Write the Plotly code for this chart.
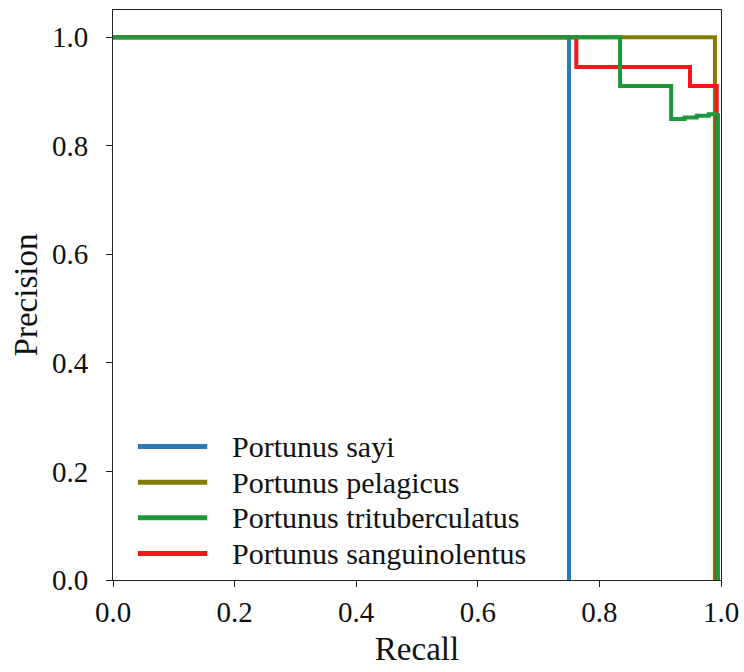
import plotly.graph_objects as go

# Precision-recall step curves per species
species = ["Portunus sayi", "Portunus pelagicus",
           "Portunus trituberculatus", "Portunus sanguinolentus"]
colors = ["#2b79b6", "#857b00", "#1c983b", "#f5151b"]

recall_sayi = [0.0, 0.75, 0.75]
precision_sayi = [1.0, 1.0, 0.0]

recall_pelagicus = [0.0, 0.990, 0.990]
precision_pelagicus = [1.0, 0.910, 0.0]

recall_trituberculatus = [0.0, 0.834, 0.918, 0.940, 0.960, 0.980, 0.995, 0.995]
precision_trituberculatus = [1.0, 0.910, 0.849, 0.852, 0.855, 0.858, 0.860, 0.0]

recall_sanguinolentus = [0.0, 0.762, 0.949, 0.993, 0.993]
precision_sanguinolentus = [1.0, 0.945, 0.910, 0.869, 0.0]

curves = {
    "Portunus sayi": (recall_sayi, precision_sayi),
    "Portunus pelagicus": (recall_pelagicus, precision_pelagicus),
    "Portunus trituberculatus": (recall_trituberculatus, precision_trituberculatus),
    "Portunus sanguinolentus": (recall_sanguinolentus, precision_sanguinolentus),
}
draw_order = ["Portunus sayi", "Portunus pelagicus",
              "Portunus sanguinolentus", "Portunus trituberculatus"]

x_ticks = [0.0, 0.2, 0.4, 0.6, 0.8, 1.0]
y_ticks = [0.0, 0.2, 0.4, 0.6, 0.8, 1.0]

FONT = "Liberation Serif, Times New Roman, serif"

fig = go.Figure()
for name in draw_order:
    r, p = curves[name]
    fig.add_trace(go.Scatter(
        x=r, y=p, mode="lines", name=name,
        line=dict(color=colors[species.index(name)], width=4, shape="hv"),
        showlegend=False,
    ))

# Legend drawn as line samples with text labels
legend_top = 0.234
legend_step = 0.0625
for i, name in enumerate(species):
    y = legend_top - i * legend_step
    fig.add_shape(type="line", xref="paper", yref="paper",
                  x0=0.041, x1=0.155, y0=y, y1=y,
                  line=dict(color=colors[i], width=5))
    fig.add_annotation(text=name, xref="paper", yref="paper",
                       x=0.192, y=y, xanchor="left", yanchor="middle",
                       showarrow=False, font=dict(family=FONT, size=30, color="#111"))

fig.update_layout(
    width=744, height=672,
    margin=dict(l=113, r=23, t=10, b=92),
    paper_bgcolor="white", plot_bgcolor="white",
    font=dict(family=FONT, color="#111"),
)
fig.update_xaxes(
    range=[0, 1.0], tickvals=x_ticks, ticktext=[f"{v:.1f}" for v in x_ticks],
    ticks="outside", ticklen=6, tickcolor="#222",
    showline=True, linecolor="#222", linewidth=1, mirror=True,
    showgrid=False, zeroline=False, automargin=False,
    tickfont=dict(family=FONT, size=29),
    title=dict(text="Recall", font=dict(family=FONT, size=33), standoff=10),
)
fig.update_yaxes(
    range=[0, 1.05], tickvals=y_ticks, ticktext=[f"{v:.1f}" for v in y_ticks],
    ticks="outside", ticklen=6, tickcolor="#222",
    showline=True, linecolor="#222", linewidth=1, mirror=True,
    showgrid=False, zeroline=False, automargin=False,
    ticklabelstandoff=12,
    tickfont=dict(family=FONT, size=29),
    title=dict(text="Precision", font=dict(family=FONT, size=33), standoff=4),
)

fig.write_html("out.html")
